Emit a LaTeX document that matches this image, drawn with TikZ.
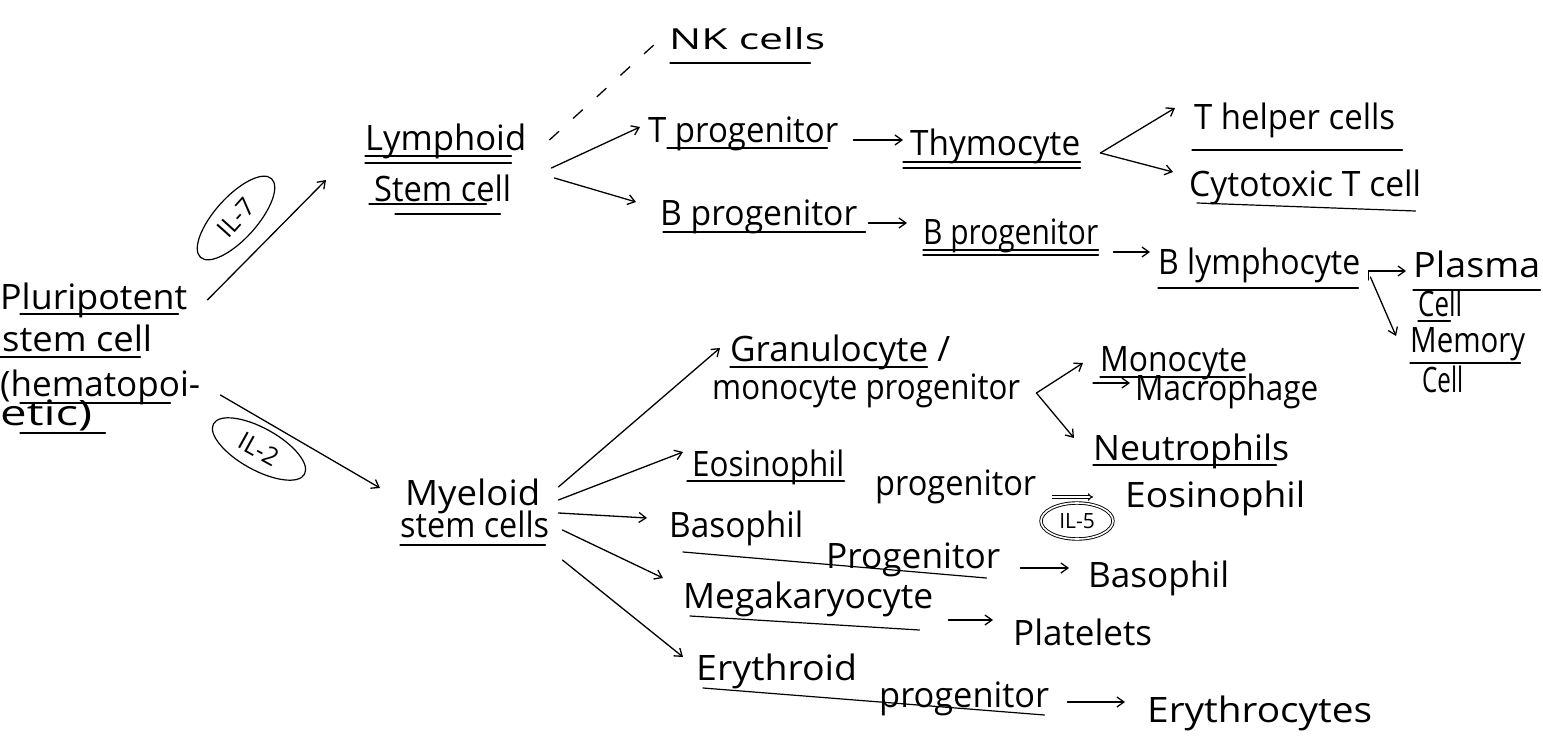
\documentclass[tikz,border=0pt]{standalone}
\usepackage{fontspec}
\setmainfont{Open Sans}
\usetikzlibrary{arrows.meta,shapes.geometric}
% stretch or squeeze a label to a given width (in pt), keeping its height
\newcommand\hw[2]{\resizebox{#1pt}{\height}{#2}}
\tikzset{
  lbl/.style={anchor=base west, inner sep=0pt, font=\fontsize{35}{38}\selectfont},
  lblsm/.style={lbl, font=\fontsize{29}{32}\selectfont},
  arr/.style={line width=1.3pt, line cap=round, -{Straight Barb[length=7pt,width=10pt,line width=1.3pt]}},
  dblarr/.style={line width=1.1pt, double equal sign distance, -{Implies}},
  ul/.style={line width=1.2pt, line cap=round},
  ilbubble/.style={draw, ellipse, line width=1.2pt, inner sep=0pt, font=\fontsize{25}{27}\selectfont},
}
\begin{document}
\begin{tikzpicture}[x=1pt,y=-1pt]
\useasboundingbox (0,0) rectangle (1543,743);

% ---------- pluripotent stem cell ----------
\node[lbl] (plu1) at (0,310) {\hw{187}{Pluripotent}};
\node[lbl] (plu2) at (2,352)  {\hw{150}{stem cell}};
\node[lbl] (plu3) at (0,397) {\hw{200}{(hematopoi-}};
\node[lbl] (plu4) at (0,425) {\hw{92}{etic)}};
\draw[ul] ([shift={(20,4)}]plu1.base west) -- ([shift={(-9,4)}]plu1.base east);
\draw[ul] ([shift={(-2,5)}]plu2.base west) -- ([shift={(-12,5)}]plu2.base east);
\draw[ul] ([shift={(20,6)}]plu3.base west) -- ([shift={(-30,6)}]plu3.base east);
\draw[ul] ([shift={(20,8)}]plu4.base west) -- ([shift={(13,8)}]plu4.base east);

% ---------- lymphoid branch ----------
\node[lbl] (lym1) at (365,151) {\hw{161}{Lymphoid}};
\node[lbl] (lym2) at (374,202) {\hw{137}{Stem cell}};
\draw[ul] ([shift={(0,5)}]lym1.base west) -- ([shift={(-15,5)}]lym1.base east);
\draw[ul] ([shift={(0,12)}]lym1.base west) -- ([shift={(-15,12)}]lym1.base east);
\draw[ul] ([shift={(-5,2)}]lym2.base west) -- ([shift={(-25,2)}]lym2.base east);
\draw[ul] ([shift={(21,12)}]lym2.base west) -- ([shift={(-11,12)}]lym2.base east);

\node[lblsm] (nk) at (669,50) {\hw{156}{NK cells}};
\draw[ul] ([shift={(1,13)}]nk.base west) -- ([shift={(-15,13)}]nk.base east);

\node[lbl] (tp) at (648,143) {\hw{190}{T progenitor}};
\draw[ul] ([shift={(19,5)}]tp.base west) -- ([shift={(-11,5)}]tp.base east);

\node[lbl] (thy) at (910,156) {\hw{170}{Thymocyte}};
\draw[ul] ([shift={(-7,6)}]thy.base west) -- ([shift={(0,6)}]thy.base east);
\draw[ul] ([shift={(-7,12)}]thy.base west) -- ([shift={(0,12)}]thy.base east);

\node[lbl] (th) at (1194,130) {\hw{201}{T helper cells}};
\draw[ul] ([shift={(-2,20)}]th.base west) -- ([shift={(7,20)}]th.base east);
\node[lbl] (ct) at (1189,197) {\hw{232}{Cytotoxic T cell}};
\draw[ul] ([shift={(8,6)}]ct.base west) -- ([shift={(-6,14)}]ct.base east);

\node[lbl] (bp1) at (660,226) {\hw{197}{B progenitor}};
\draw[ul] ([shift={(3,6)}]bp1.base west) -- ([shift={(8,6)}]bp1.base east);
\node[lbl] (bp2) at (923,245) {\hw{175}{B progenitor}};
\draw[ul] ([shift={(0,5)}]bp2.base west) -- ([shift={(0,5)}]bp2.base east);
\draw[ul] ([shift={(0,10)}]bp2.base west) -- ([shift={(0,10)}]bp2.base east);

\node[lbl] (bly) at (1158,275) {\hw{202}{B lymphocyte}};
\draw[ul] ([shift={(0,13)}]bly.base west) -- ([shift={(-2,13)}]bly.base east);

\node[lbl] (pl1) at (1413,278) {\hw{127}{Plasma}};
\node[lbl] (pl2) at (1418,317) {\hw{44}{Cell}};
\draw[ul] ([shift={(0,12)}]pl1.base west) -- ([shift={(0,12)}]pl1.base east);
\draw[ul] ([shift={(0,4)}]pl2.base west) -- ([shift={(-12,4)}]pl2.base east);
\node[lbl] (me1) at (1410,353) {\hw{115}{Memory}};
\node[lbl] (me2) at (1422,392) {\hw{41}{Cell}};
\draw[ul] ([shift={(0,10)}]me1.base west) -- ([shift={(-5,10)}]me1.base east);

% ---------- myeloid branch ----------
\node[lbl] (my1) at (405,505) {\hw{135}{Myeloid}};
\node[lbl] (my2) at (400,537) {\hw{149}{stem cells}};
\draw[ul] ([shift={(0,8)}]my2.base west) -- ([shift={(-4,8)}]my2.base east);

\node[lbl] (gr1) at (730,362) {\hw{220}{Granulocyte /}};
\node[lbl] (gr2) at (712,400) {\hw{308}{monocyte progenitor}};
\draw[ul] ([shift={(0,5)}]gr1.base west) -- ([shift={(-23,5)}]gr1.base east);

\node[lbl] (mono) at (1100,372) {\hw{147}{Monocyte}};
\draw[ul] ([shift={(0,5)}]mono.base west) -- ([shift={(-2,5)}]mono.base east);
\node[lbl] (mac) at (1135,400) {\hw{183}{Macrophage}};
\node[lbl] (neu) at (1093,460) {\hw{196}{Neutrophils}};
\draw[ul] ([shift={(0,5)}]neu.base west) -- ([shift={(-13,5)}]neu.base east);

\node[lbl] (eo1) at (692,476) {\hw{152}{Eosinophil}};
\node[lbl] (eo2) at (875,495) {\hw{161}{progenitor}};
\draw[ul] ([shift={(-5,5)}]eo1.base west) -- ([shift={(0,5)}]eo1.base east);
\node[lbl] (eos) at (1125,507) {\hw{180}{Eosinophil}};
\node[ilbubble, double, double distance=1.6pt, line width=0.9pt,
      font=\fontsize{21}{23}\selectfont,
      minimum width=72pt, minimum height=36pt] (il5) at (1077,521) {IL-5};

\node[lbl] (ba1) at (669,537) {\hw{134}{Basophil}};
\node[lbl] (ba2) at (826,568) {\hw{174}{Progenitor}};
\draw[ul] ([shift={(14,15)}]ba1.base west) -- ([shift={(-14,10)}]ba2.base east);
\node[lbl] (baso) at (1088,587) {\hw{141}{Basophil}};

\node[lbl] (meg) at (683,608) {\hw{250}{Megakaryocyte}};
\draw[ul] ([shift={(7,8)}]meg.base west) -- ([shift={(-14,22)}]meg.base east);
\node[lbl] (plt) at (1013,645) {\hw{139}{Platelets}};

\node[lbl] (ery1) at (696,680) {\hw{161}{Erythroid}};
\node[lbl] (ery2) at (879,707) {\hw{170}{progenitor}};
\draw[ul] ([shift={(7,8)}]ery1.base west) -- ([shift={(-5,8)}]ery2.base east);
\node[lbl] (erc) at (1147,722) {\hw{225}{Erythrocytes}};

% ---------- interleukin bubbles ----------
\node[ilbubble, rotate=48, minimum width=106pt, minimum height=42pt] (il7) at (236,218) {IL-7};
\node[ilbubble, rotate=-29, minimum width=104pt, minimum height=42pt] (il2) at (259,449) {IL-2};

% ---------- connectors ----------
\draw[arr] ([shift={(20,-10)}]plu1.base east) -- ([shift={(-48,-22)}]lym2.base west);
\draw[arr] ([shift={(20,-2)}]plu3.base east) -- ([shift={(-25,-17)}]my1.base west);

\draw[line width=1.3pt, dash pattern=on 13pt off 19pt]
  ([shift={(23,-11)}]lym1.base east) -- ([shift={(-13,-7)}]nk.base west);
\draw[arr] ([shift={(25,17)}]lym1.base east) -- ([shift={(-8,-16)}]tp.base west);
\draw[arr] ([shift={(28,27)}]lym1.base east) -- ([shift={(-24,-24)}]bp1.base west);

\draw[arr] ([shift={(15,-3)}]tp.base east) -- ([shift={(-7,-16)}]thy.base west);
\draw[arr] ([shift={(20,-3)}]thy.base east) -- ([shift={(-19,-22)}]th.base west);
\draw[arr] ([shift={(20,-3)}]thy.base east) -- ([shift={(-16,-25)}]ct.base west);

\draw[arr] ([shift={(11,-3)}]bp1.base east) -- ([shift={(-16,-22)}]bp2.base west);
\draw[arr] ([shift={(15,7)}]bp2.base east) -- ([shift={(-8,-23)}]bly.base west);
\draw[arr] ([shift={(8,5)}]bly.base east) |- ([shift={(-7,-7)}]pl1.base west);
\draw[arr] ([shift={(10,2)}]bly.base east) -- ([shift={(-14,-17)}]me1.base west);

\draw[arr] ([shift={(18,-18)}]my1.base east) -- ([shift={(-10,-14)}]gr1.base west);
\draw[arr] ([shift={(18,-5)}]my1.base east) -- ([shift={(-9,-24)}]eo1.base west);
\draw[arr] ([shift={(9,-24)}]my2.base east) -- ([shift={(-22,-19)}]ba1.base west);
\draw[arr] ([shift={(13,-7)}]my2.base east) -- ([shift={(-20,-30)}]meg.base west);
\draw[arr] ([shift={(13,23)}]my2.base east) -- ([shift={(-13,-23)}]ery1.base west);

\draw[arr] ([shift={(16,-7)}]gr2.base east) -- ([shift={(-17,-9)}]mono.base west);
\draw[arr] ([shift={(16,-7)}]gr2.base east) -- ([shift={(-19,-22)}]neu.base west);
\draw[arr] ([shift={(-7,11)}]mono.base west) -- ([shift={(-5,-17)}]mac.base west);

\draw[dblarr] ([shift={(16,2)}]eo2.base east) -- ([shift={(-32,-10)}]eos.base west);
\draw[arr] ([shift={(20,0)}]ba2.base east) -- ([shift={(-19,-19)}]baso.base west);
\draw[arr] ([shift={(15,12)}]meg.base east) -- ([shift={(-20,-25)}]plt.base west);
\draw[arr] ([shift={(18,-5)}]ery2.base east) -- ([shift={(-22,-20)}]erc.base west);
\end{tikzpicture}
\end{document}
